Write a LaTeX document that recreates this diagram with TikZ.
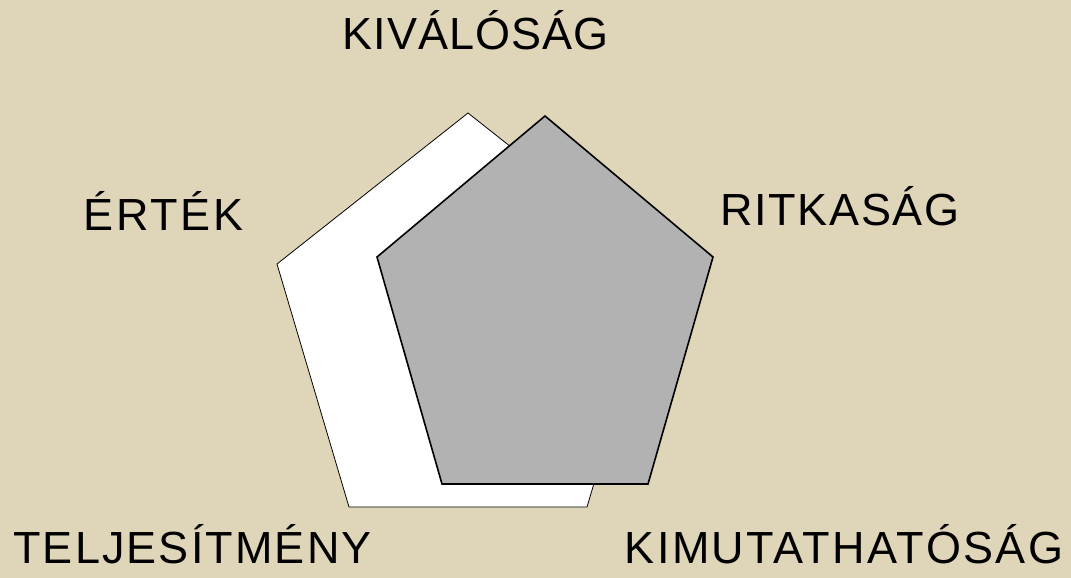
\documentclass[tikz,border=0pt]{standalone}
\usepackage{fontspec}
\setmainfont{Liberation Sans}
\definecolor{bg}{HTML}{DFD6BA}
\definecolor{pentgray}{HTML}{B2B2B2}
\newcommand{\ls}[2]{{\addfontfeature{LetterSpace=#1}#2}}
\begin{document}
\begin{tikzpicture}[x=1pt,y=-1pt,
  lbl/.style={anchor=base,inner sep=0pt,font=\fontsize{45}{50}\selectfont,text=black},
  backpent/.style={fill=white,draw=black,line width=0.8pt,line join=miter},
  frontpent/.style={fill=pentgray,draw=black,line width=1.6pt,line join=miter}]
\fill[bg] (0,0) rectangle (1071,578);
\useasboundingbox (0,0) rectangle (1071,578);
% back (white) pentagon
\coordinate (w1) at (468,113);
\coordinate (w2) at (659,264);
\coordinate (w3) at (587,507);
\coordinate (w4) at (349,507);
\coordinate (w5) at (277,264);
\draw[backpent] (w1) -- (w2) -- (w3) -- (w4) -- (w5) -- cycle;
% front (gray) pentagon
\coordinate (g1) at (545,116);
\coordinate (g2) at (713,257);
\coordinate (g3) at (648,484);
\coordinate (g4) at (442,484);
\coordinate (g5) at (377,257);
\draw[frontpent] (g1) -- (g2) -- (g3) -- (g4) -- (g5) -- cycle;
% labels
\node[lbl] (kival) at (475.5,50) {\ls{2.4}{KIVÁLÓSÁG}};
\node[lbl] (ertek) at (163.5,230) {\ls{5.5}{ÉRTÉK}};
\node[lbl] (ritka) at (840,225) {\ls{3.5}{RITKASÁG}};
\node[lbl] (telj) at (192.5,563) {\ls{4.7}{TELJESÍTMÉNY}};
\node[lbl] (kimut) at (844,563) {\ls{5.3}{KIMUTATHATÓSÁG}};
\end{tikzpicture}
\end{document}
